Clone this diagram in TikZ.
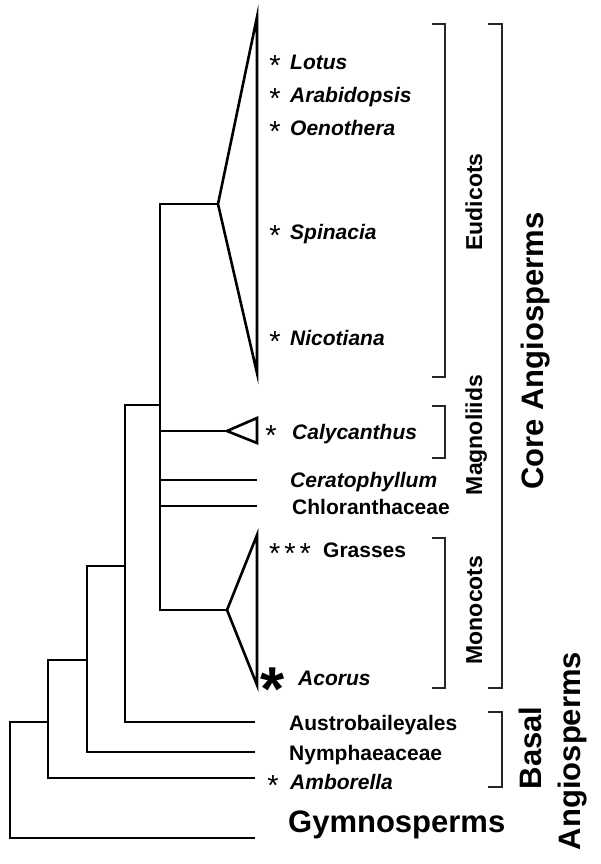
\documentclass[tikz,border=0pt]{standalone}
\usepackage{fontspec}
\setmainfont{Liberation Sans}
\begin{document}
\begin{tikzpicture}[x=1pt,y=-1pt,
  branch/.style={line width=2.9pt, line join=miter},
  clade/.style={line width=2.6pt, line join=miter},
  brk/.style={line width=1.2pt, black!85},
  lab/.style={font=\fontsize{21}{25}\selectfont\bfseries, anchor=base west, inner sep=0pt},
  itl/.style={font=\fontsize{21}{25}\selectfont\bfseries\itshape, anchor=base west, inner sep=0pt},
  starl/.style={font=\fontsize{29}{29}\selectfont, anchor=base, inner sep=0pt},
  bigstar/.style={font=\fontsize{62}{62}\selectfont\bfseries, anchor=base, inner sep=0pt},
  grp/.style={font=\fontsize{23}{27}\selectfont\bfseries, rotate=90, anchor=base, inner sep=0pt},
  big/.style={font=\fontsize{31}{36}\selectfont\bfseries, inner sep=0pt},
]
\useasboundingbox (0,0) rectangle (600,864);

% ---- tree coordinates
\coordinate (root) at (10,722);
\coordinate (n1top) at (48,660);
\coordinate (n1att) at (48,722);
\coordinate (n2top) at (87,566);
\coordinate (n2att) at (87,660);
\coordinate (n3top) at (125,405);
\coordinate (n3att) at (125,566);
\coordinate (coretop) at (160,204);
\coordinate (coreatt) at (160,405);
\coordinate (calbase) at (160,431);
\coordinate (cerbase) at (160,480);
\coordinate (chlbase) at (160,506);
\coordinate (euapex) at (218,204);
\coordinate (eutop) at (257,17);
\coordinate (eubot) at (257,373);
\coordinate (calapex) at (227,431);
\coordinate (caltop) at (257,418);
\coordinate (calbot) at (257,443);
\coordinate (monoapex) at (227,610);
\coordinate (monotop) at (257,535);
\coordinate (monobot) at (257,685);
\coordinate (certip) at (257,480);
\coordinate (chltip) at (257,506);
\coordinate (austip) at (255,722);
\coordinate (nymtip) at (255,752);
\coordinate (ambtip) at (255,778);
\coordinate (gymtip) at (255,838);

% ---- branches
\draw[branch] (n1att) -- (root) |- (gymtip);
\draw[branch] (n2att) -- (n1top) |- (ambtip);
\draw[branch] (n3att) -- (n2top) |- (nymtip);
\draw[branch] (coreatt) -- (n3top) |- (austip);
\draw[branch] (euapex) -- (coretop) |- (monoapex);
\draw[branch] (calbase) -- (calapex);
\draw[branch] (cerbase) -- (certip);
\draw[branch] (chlbase) -- (chltip);

% ---- collapsed clades
\draw[clade] (euapex) -- (eutop) -- (eubot) -- cycle;
\draw[clade] (calapex) -- (caltop) -- (calbot) -- cycle;
\draw[clade] (monoapex) -- (monotop) -- (monobot) -- cycle;

% ---- tip labels
\node[starl] (s1) at (275,69.5) {\raisebox{-0.22em}{*}};
\node[itl] (lotus) at (290,69.5) {Lotus};
\node[starl] (s2) at (275,102.5) {\raisebox{-0.22em}{*}};
\node[itl] (arab) at (290,102.5) {Arabidopsis};
\node[starl] (s3) at (275,135.5) {\raisebox{-0.22em}{*}};
\node[itl] (oeno) at (290,135.5) {Oenothera};
\node[starl] (s4) at (275,239.5) {\raisebox{-0.22em}{*}};
\node[itl] (spin) at (290,239.5) {Spinacia};
\node[starl] (s5) at (275,345.5) {\raisebox{-0.22em}{*}};
\node[itl] (nico) at (290,345.5) {Nicotiana};
\node[starl] (s6) at (271,439.5) {\raisebox{-0.22em}{*}};
\node[itl] (caly) at (292,439.5) {Calycanthus};
\node[itl] (cera) at (290,487.5) {Ceratophyllum};
\node[lab] (chlo) at (292,514.5) {Chloranthaceae};
\node[starl] (s7) at (290,557.5) {\raisebox{-0.22em}{*\hspace{0.14em}*\hspace{0.14em}*}};
\node[lab] (gras) at (323,557.5) {Grasses};
\node[bigstar] (s8) at (273,697) {\raisebox{-0.22em}{*}};
\node[itl] (acor) at (298,685.5) {Acorus};
\node[lab] (aust) at (289,730.5) {Austrobaileyales};
\node[lab] (nymp) at (289,760.5) {Nymphaeaceae};
\node[starl] (s9) at (273,789.5) {\raisebox{-0.22em}{*}};
\node[itl] (ambo) at (290,789.5) {Amborella};
\node[big, anchor=base west] (gymn) at (288,832) {Gymnosperms};

% ---- brackets
\draw[brk] (432,24) -- (445,24) -- (445,377) -- (432,377);
\draw[brk] (432,406) -- (445,406) -- (445,458) -- (432,458);
\draw[brk] (432,538) -- (445,538) -- (445,688) -- (432,688);
\draw[brk] (488,24) -- (502,24) -- (502,688) -- (488,688);
\draw[brk] (488,712) -- (502,712) -- (502,787) -- (488,787);

% ---- group labels
\node[grp] (eudi) at (482,202) {Eudicots};
\node[grp] (magn) at (482,435) {Magnoliids};
\node[grp] (mono) at (482,610) {Monocots};
\node[big, rotate=90, anchor=base] (core) at (543,351) {Core Angiosperms};
\node[big, rotate=90, anchor=base] (basal) at (541,748) {Basal};
\node[big, rotate=90, anchor=base] (angio) at (580,751) {Angiosperms};
\end{tikzpicture}
\end{document}
